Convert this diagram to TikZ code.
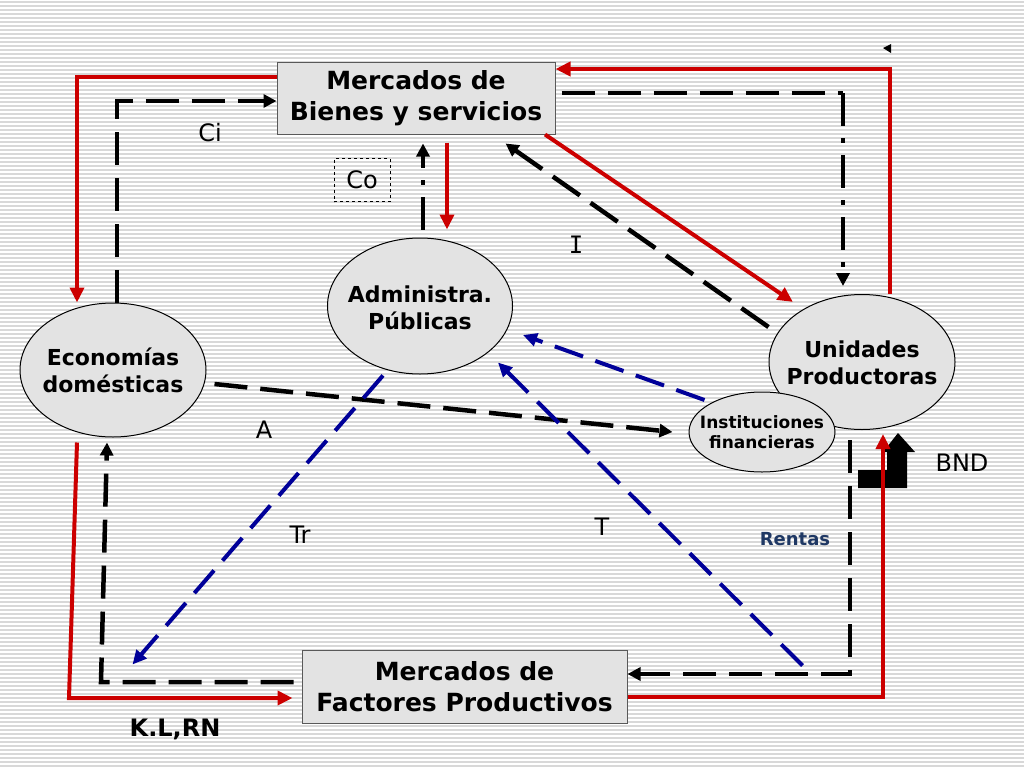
\documentclass[tikz,border=0pt]{standalone}
\usepackage{fontspec}
\setmainfont{DejaVu Sans}
\newfontfamily\monoI{DejaVu Sans Mono}
\usetikzlibrary{shapes.geometric,arrows.meta,calc}
\definecolor{myred}{RGB}{204,0,0}
\definecolor{myblue}{RGB}{0,0,153}
\definecolor{fillg}{RGB}{227,227,227}
\definecolor{rentasc}{RGB}{31,56,100}
\definecolor{bgl}{RGB}{216,216,216}
\begin{document}
\begin{tikzpicture}[x=1pt,y=-1pt,
  mbox/.style={draw=black!65, line width=1pt, fill=fillg, align=center, inner sep=0pt, font=\fontsize{25}{31}\selectfont\bfseries},
  mell/.style={ellipse, draw=black, line width=1pt, fill=fillg, inner sep=0pt},
  etext/.style={align=center, inner sep=0pt, font=\fontsize{22}{27}\selectfont\bfseries},
  itext/.style={align=center, inner sep=0pt, font=\fontsize{17}{20}\selectfont\bfseries},
  lbl/.style={inner sep=0pt, font=\fontsize{24}{28}\selectfont},
  redl/.style={draw=myred, line width=4pt, -{Triangle[length=15pt,width=14pt]}},
  blk/.style={draw=black, line width=4.5pt, dash pattern=on 33pt off 13pt, -{Triangle[length=13pt,width=13pt]}},
  blkn/.style={draw=black, line width=4.5pt, dash pattern=on 33pt off 13pt},
  blkdd/.style={draw=black, line width=4.5pt, dash pattern=on 33pt off 12pt on 5pt off 12pt, -{Triangle[length=13pt,width=13pt]}},
  blu/.style={draw=myblue, line width=4pt, dash pattern=on 30pt off 13pt, -{Triangle[length=14pt,width=13pt]}}
]
\useasboundingbox (0,0) rectangle (1024,768);
\fill[white] (0,0) rectangle (1024,768);
\foreach \i in {0,...,191} \draw[bgl, line width=1.5pt] (0,\i*4+2) -- (1024,\i*4+2);

% nodes
\node[mbox, minimum width=278pt, minimum height=72pt] (bienes) at (416,98) {Mercados de\\Bienes y servicios};
\node[mbox, minimum width=325pt, minimum height=73pt] (factores) at (464.5,686.5) {Mercados de\\Factores Productivos};
\node[mell, minimum width=186pt, minimum height=134pt, label={[etext]center:Economías\\domésticas}] (eco) at (113,370) {};
\node[mell, minimum width=185pt, minimum height=136pt, label={[etext, yshift=-2pt]center:Administra.\\Públicas}] (adm) at (420,306) {};
\node[mell, minimum width=186pt, minimum height=135pt, label={[etext, yshift=-1pt]center:Unidades\\Productoras}] (uni) at (862,362) {};
\node[mell, minimum width=146pt, minimum height=80pt, label={[itext]center:Instituciones\\financieras}] (inst) at (762,432) {};
\node[draw=black, dashed, line width=0.8pt, minimum width=56pt, minimum height=43pt, inner sep=0pt, font=\fontsize{24}{28}\selectfont] (co) at (362,180) {Co};

% labels
\node[lbl] (lci) at (210,133) {Ci};
\node[lbl, font=\fontsize{24}{28}\monoI] (li) at (576,245) {I};
\node[lbl] (la) at (264,430) {A};
\node[lbl] (ltr) at (300,535) {Tr};
\node[lbl] (lt) at (602,527) {T};
\node[lbl] (lbnd) at (962,463) {BND};
\node[inner sep=0pt, text=rentasc, font=\fontsize{18}{20}\selectfont\bfseries] (lrentas) at (795,539) {Rentas};
\node[inner sep=0pt, font=\fontsize{24}{28}\selectfont\bfseries] (lklrn) at (175,729) {K.L,RN};

% BND bent arrow
\fill[black] (858,470) -- (887,470) -- (887,452) -- (883,452) -- (898,433) -- (915,452) -- (907,452) -- (907,488) -- (858,488) -- cycle;
% stray small arrow tip
\fill[black] (883,48) -- (891,44) -- (891,53) -- cycle;

% red connectors
\draw[redl] (bienes.west |- 0,77) -| (eco.north -| 77,0);
\draw[redl] (uni.north -| 890,0) |- (bienes.east |- 0,69);
\draw[redl] (bienes.south -| 545,0) -- ($(uni.north west)+(-3,-12)$);
\draw[redl] ($(bienes.south -| 447,0)+(0,8)$) -- ($(adm.north -| 447,0)+(0,-8)$);
\draw[redl] ($(eco.south -| 77,0)+(0,5)$) -- (69,698) -- ($(factores.west |- 0,698)+(-9,0)$);
\draw[redl] (factores.east |- 0,697) -| ($(uni.south -| 883,0)+(0,4)$);

% black dashed connectors
\draw[blk] (eco.north -| 117,0) |- (bienes.west |- 0,101);
\coordinate (k2c) at (843,93);
\draw[blkn] ($(bienes.east |- 0,93)+(6,0)$) -- (k2c);
\draw[blkdd] (k2c) -- ($(uni.north -| 843,0)+(0,-8)$);
\draw[blk] ($(uni.west)+(0,-35)$) -- ($(bienes.south east)+(-50,9)$);
\draw[blkdd] ($(adm.north -| 423,0)+(0,-8)$) -- ($(bienes.south -| 423,0)+(0,9)$);
\draw[blk] ($(eco.east)+(8,14)$) -- ($(inst.west)+(-16,0)$);
\draw[blk] ($(uni.south -| 850,0)+(0,10)$) |- (factores.east |- 0,674);
\draw[blk] ($(factores.west |- 0,682)+(-8,0)$) -- (101,682) -- ($(eco.south -| 107,0)+(0,5)$);

% blue dashed connectors
\draw[blu] ($(adm.south)+(-37,1)$) -- ($(factores.west)+(-169,-22)$);
\draw[blu] ($(factores.east)+(175,-21)$) -- ($(adm.south)+(78,-12)$);
\draw[blu] ($(inst.west)+(16,-32)$) -- ($(adm.east)+(10,29)$);
\end{tikzpicture}
\end{document}
